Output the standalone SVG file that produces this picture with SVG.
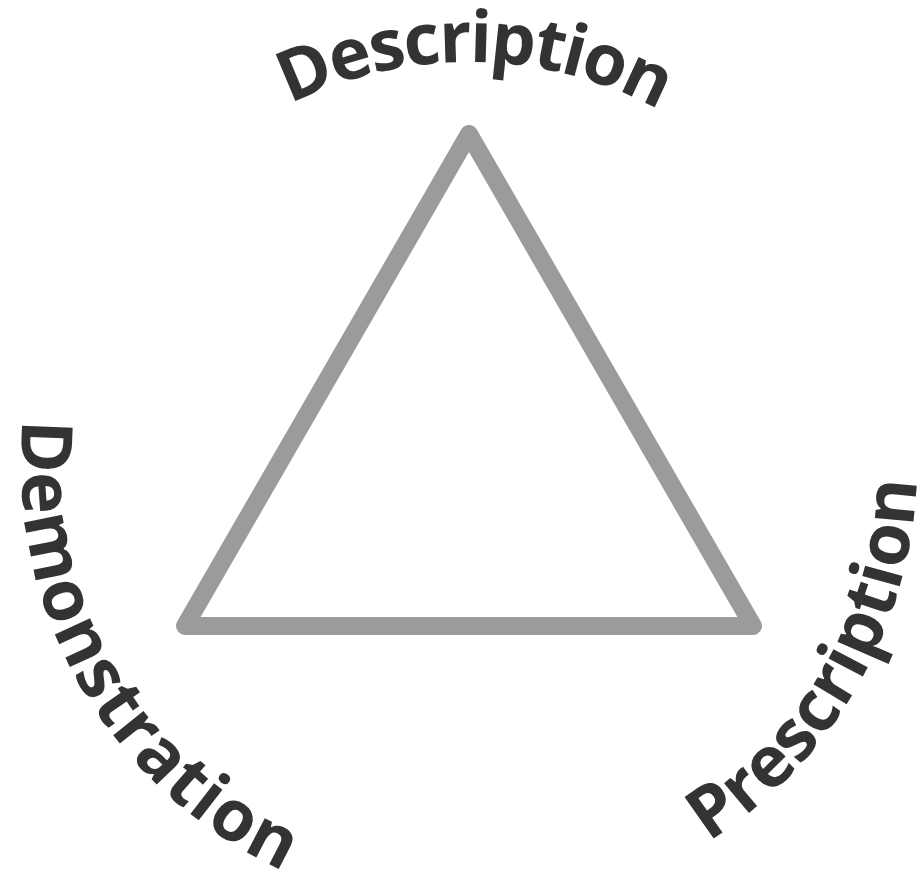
<svg xmlns="http://www.w3.org/2000/svg" width="920" height="870" viewBox="0 0 920 870">
  <style>
    .lbl { font-family: "Open Sans", "Liberation Sans", sans-serif; font-weight: 700; font-size: 71px; fill: #333333; }
    .tri { fill: none; stroke: #9b9b9b; stroke-width: 18; stroke-linejoin: round; stroke-linecap: round; }
  </style>
  <defs>
    <path id="arcTop" d="M 68,463 A 401 401 0 0 1 870,463"/>
    <path id="arcLeft" d="M 245,75 A 448 448 0 0 0 693,851"/>
    <path id="arcRight" d="M 245,851 A 448 448 0 0 0 693,75"/>
  </defs>
  <rect width="920" height="870" fill="#ffffff"/>
  <g id="triangle">
    <polygon class="tri" points="469,134 753,626 185,626"/>
  </g>
  <g id="label-description">
    <text class="lbl" text-anchor="middle"><textPath href="#arcTop" startOffset="50.5%" textLength="384" lengthAdjust="spacing">Description</textPath></text>
  </g>
  <g id="label-demonstration">
    <text class="lbl" text-anchor="middle"><textPath href="#arcLeft" startOffset="50%" textLength="556" lengthAdjust="spacing">Demonstration</textPath></text>
  </g>
  <g id="label-prescription">
    <text class="lbl" text-anchor="middle"><textPath href="#arcRight" startOffset="50%" textLength="434" lengthAdjust="spacing">Prescription</textPath></text>
  </g>
</svg>
